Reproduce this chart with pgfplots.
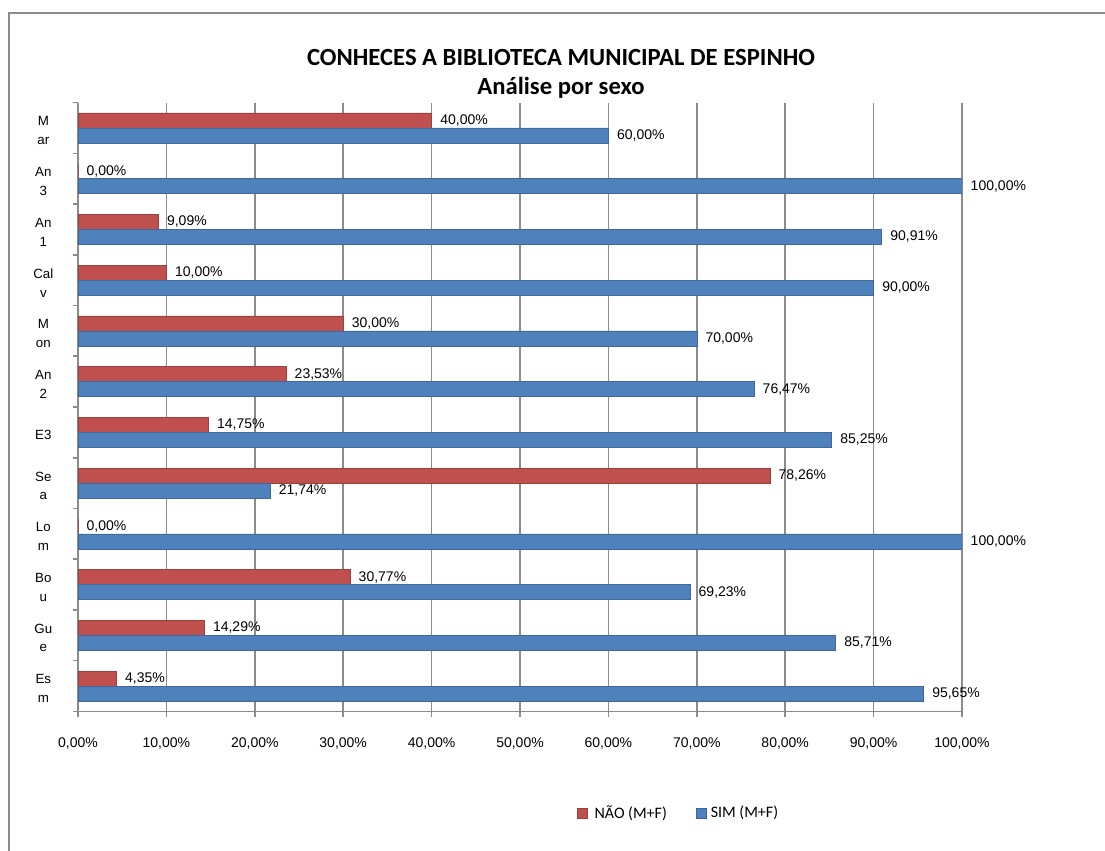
\documentclass[border=0pt]{standalone}
\usepackage{fontspec}
\setmainfont{Liberation Sans}
\newfontfamily\titlefont{Carlito}
\usepackage{pgfplots}
\pgfplotsset{compat=1.18}
\definecolor{redbar}{HTML}{C0504D}
\definecolor{bluebar}{HTML}{4F81BD}
\definecolor{gridgray}{HTML}{8C8C8C}
\begin{document}
\begin{tikzpicture}
\path[use as bounding box] (0pt,0pt) rectangle (828.75pt,-637.5pt);
\draw[gridgray, line width=1.5pt] (7pt,-645pt) -- (7pt,-10pt) -- (835pt,-10pt);
\node[font=\titlefont\bfseries\fontsize{18.5}{22}\selectfont, anchor=base] at (420.75pt,-48.75pt) {CONHECES A BIBLIOTECA MUNICIPAL DE ESPINHO};
\node[font=\titlefont\bfseries\fontsize{18.5}{22}\selectfont, anchor=base] at (420.75pt,-70.5pt) {Análise por sexo};
\begin{axis}[
  at={(58.5pt,-533.55pt)}, anchor=south west,
  scale only axis, width=663pt, height=456.6pt,
  xmin=0, xmax=100, ymin=-0.5, ymax=11.5,
  xbar, bar width=11.25pt,
  /pgf/number format/assume math mode=true,
  axis x line=bottom, axis y line=left,
  axis line style={-, gridgray, line width=1.2pt},
  xtick={0,10,...,100},
  xmajorgrids, major grid style={gridgray, line width=1.3pt},
  xticklabel={\pgfmathprintnumber[fixed,fixed zerofill,precision=2,use comma]{\tick}\%},
  xticklabel style={font=\fontsize{10.5}{12}\selectfont, yshift=-12pt},
  ytick={0,...,11},
  yticklabels={{Es\\m},{Gu\\e},{Bo\\u},{Lo\\m},{Se\\a},{E3},{An\\2},{M\\on},{Cal\\v},{An\\1},{An\\3},{M\\ar}},
  yticklabel style={font=\fontsize{10}{14}\selectfont, align=center, anchor=center, xshift=-22pt, yshift=-2pt},
  minor ytick={-0.5,0.5,...,11.5},
  tick align=outside,
  major tick length=4pt, minor tick length=4pt,
  major x tick style={gridgray, line width=1.2pt},
  major y tick style={draw=none},
  minor y tick style={gridgray, line width=1.2pt},
  point meta=x,
  nodes near coords={\pgfmathprintnumber[fixed,fixed zerofill,precision=2,use comma]{\pgfplotspointmeta}\%},
  nodes near coords style={font=\fontsize{10.5}{12}\selectfont, black, anchor=west, xshift=3pt},
  legend style={at={(axis description cs:0.680,-0.167)}, anchor=center, draw=none,
    font=\titlefont\fontsize{12}{14}\selectfont, legend columns=2,
    /tikz/every even column/.append style={column sep=20pt}},
  legend image code/.code={\fill[#1] (0pt,-3.75pt) rectangle (7.5pt,3.75pt);},
]
\addplot[fill=redbar, draw=redbar!80!black, bar shift=5.625pt] coordinates {
(4.35,0) (14.29,1) (30.77,2) (0,3) (78.26,4) (14.75,5) (23.53,6) (30,7) (10,8) (9.09,9) (0,10) (40,11)};
\addplot[fill=bluebar, draw=bluebar!80!black, bar shift=-5.625pt] coordinates {
(95.65,0) (85.71,1) (69.23,2) (100,3) (21.74,4) (85.25,5) (76.47,6) (70,7) (90,8) (90.91,9) (100,10) (60,11)};
\legend{\hspace{3pt}NÃO (M+F), \hspace{1pt}SIM (M+F)}
\end{axis}
\end{tikzpicture}
\end{document}
